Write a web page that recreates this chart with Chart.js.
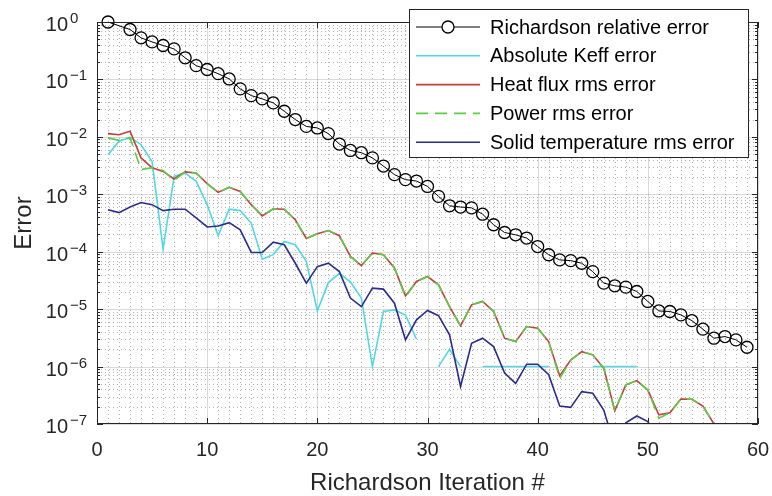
<!DOCTYPE html>
<html>
<head>
<meta charset="utf-8">
<title>Richardson iteration convergence</title>
<script src="https://cdn.jsdelivr.net/npm/chart.js"></script>
<style>
  html, body { margin: 0; padding: 0; background: #fff; }
  #wrap { width: 772px; height: 496px; }
</style>
</head>
<body>
<div id="wrap"><canvas id="errChart" width="772" height="496"></canvas></div>
<script>
// iteration numbers (x axis)
const iterations = [1, 2, 3, 4, 5, 6, 7, 8, 9, 10, 11, 12, 13, 14, 15, 16, 17, 18, 19, 20,
  21, 22, 23, 24, 25, 26, 27, 28, 29, 30, 31, 32, 33, 34, 35, 36, 37, 38, 39, 40,
  41, 42, 43, 44, 45, 46, 47, 48, 49, 50, 51, 52, 53, 54, 55, 56, 57, 58, 59];

const richardsonErr = [1.0, null, 0.74, 0.53, 0.45, 0.39, 0.34, 0.238, 0.174, 0.149,
  0.126, 0.102, 0.0685, 0.0523, 0.0458, 0.039, 0.0279, 0.020, 0.0152, 0.0143,
  0.0114, 0.0075, 0.0058, 0.0053, 0.0043, 0.0031, 0.0022, 0.0018, 0.0017, 0.00137,
  0.00092, 0.00063, 0.0006, 0.00058, 0.00045, 0.000295, 0.000216, 0.000197, 0.000173, 0.000123,
  8.85e-5, 7.2e-5, 7.0e-5, 6.3e-5, 4.5e-5, 2.84e-5, 2.55e-5, 2.42e-5, 2.03e-5, 1.36e-5,
  9.3e-6, 9.1e-6, 7.95e-6, 6.3e-6, 4.48e-6, 3.12e-6, 3.33e-6, 2.92e-6, 2.17e-6];

const keffErr = [0.0049, 0.0084, 0.0098, 0.0073, 0.0037, 0.000111, 0.00205, 0.00235, 0.00168, 0.00066,
  0.00019, 0.00055, 0.00052, 0.000315, 7.4e-5, 8.9e-5, 0.000151, 0.000132, 6.8e-5, 9.3e-6,
  2.9e-5, 4.2e-5, 3.0e-5, 1.56e-5, 1.0e-6, 9.1e-6, 9.7e-6, 7.9e-6, 3.0e-6, null,
  1e-6, 2e-6, 1e-6, null, 1e-6, 1e-6, 1e-6, 1e-6, 1e-6, 1e-6,
  1e-6, null, null, null, 1e-6, 1e-6, 1e-6, 1e-6, 1e-6, null,
  null, null, null, null, null, null, null, null, null];

const heatFluxErr = [0.0114, 0.0109, 0.0125, 0.0043, 0.0029, 0.0025, 0.00185, 0.00245, 0.00235, 0.00153,
  0.00108, 0.00132, 0.00112, 0.00066, 0.00042, 0.00056, 0.00055, 0.00036, 0.00017, 0.000205,
  0.000234, 0.00019, 8.3e-5, 5.75e-5, 9.5e-5, 8.85e-5, 5.2e-5, 1.7e-5, 3.03e-5, 3.7e-5,
  2.65e-5, 1.11e-5, 5.1e-6, 1.19e-5, 1.36e-5, 9.1e-6, 3.12e-6, 2.72e-6, 4.98e-6, 4.66e-6,
  2.72e-6, 6.9e-7, 1.3e-6, 1.82e-6, 1.6e-6, 9.4e-7, 1.7e-7, 4.8e-7, 5.7e-7, 3.9e-7,
  1.44e-7, 1.57e-7, 2.73e-7, 2.7e-7, 2.06e-7, 1.0e-7, 5e-8, null, null];

const powerErr = [0.0096, 0.0087, 0.0096, 0.0027, 0.0029, 0.0026, 0.00175, 0.00245, 0.00235, 0.00153,
  0.00108, 0.00132, 0.00112, 0.00066, 0.00042, 0.00056, 0.00055, 0.00036, 0.00017, 0.000205,
  0.000234, 0.00019, 8.3e-5, 5.75e-5, 9.5e-5, 8.85e-5, 5.2e-5, 1.62e-5, 3.03e-5, 3.7e-5,
  2.65e-5, 1.11e-5, 5.1e-6, 1.19e-5, 1.36e-5, 9.1e-6, 3.12e-6, 2.72e-6, 4.98e-6, 4.66e-6,
  2.72e-6, 6.2e-7, 1.3e-6, 1.82e-6, 1.6e-6, 9.4e-7, 1.7e-7, 4.8e-7, 5.7e-7, 3.9e-7,
  1.26e-7, 1.57e-7, 2.73e-7, 2.7e-7, 2.06e-7, 1.0e-7, 5e-8, null, null];

const solidTempErr = [0.00054, 0.00048, 0.0006, 0.00072, 0.00066, 0.00052, 0.00055, 0.00055, 0.00039, 0.00027,
  0.00028, 0.00032, 0.00024, 9.7e-5, 9.7e-5, 0.000147, 0.000132, 6.3e-5, 2.84e-5, 5.5e-5,
  6.3e-5, 4.5e-5, 1.56e-5, 1.11e-5, 2.32e-5, 2.23e-5, 1.27e-5, 2.92e-6, 6.5e-6, 9.5e-6,
  7.7e-6, 3.56e-6, 4.5e-7, 2.55e-6, 3.12e-6, 2.23e-6, 7.7e-7, 5.1e-7, 1.1e-6, 1.1e-6,
  7.2e-7, 2.06e-7, 1.95e-7, 3.66e-7, 3.43e-7, 1.75e-7, 4e-8, 1.05e-7, 1.38e-7, 1.1e-7,
  5e-8, null, null, null, null, null, null, null, null];

// axis ticks
const xTicks = [0, 10, 20, 30, 40, 50, 60];
const yExponents = [0, -1, -2, -3, -4, -5, -6, -7];

const FONT = 'Liberation Sans, Arial, Helvetica, sans-serif';
const AXIS_COLOR = '#262626';

function pts(ys) {
  return iterations.map((it, i) => ({ x: it, y: ys[i] }));
}

function seg(ctx, x1, y1, x2, y2) {
  ctx.beginPath();
  ctx.moveTo(x1, y1);
  ctx.lineTo(x2, y2);
  ctx.stroke();
}

// grid lines (major solid, minor dotted) under the data
const gridPlugin = {
  id: 'logGrid',
  beforeDatasetsDraw(chart) {
    const { ctx, chartArea: a, scales: { x, y } } = chart;
    ctx.save();
    ctx.lineWidth = 1;
    ctx.strokeStyle = 'rgba(0,0,0,0.3)';
    ctx.setLineDash([1, 3]);
    for (let v = xTicks[0] + 1; v < xTicks[xTicks.length - 1]; v++) {
      if (xTicks.includes(v)) continue;
      const px = Math.round(x.getPixelForValue(v)) + 0.5;
      seg(ctx, px, a.top, px, a.bottom);
    }
    yExponents.forEach(e => {
      if (e === 0) return;
      for (let m = 2; m <= 9; m++) {
        const py = Math.round(y.getPixelForValue(m * Math.pow(10, e))) + 0.5;
        seg(ctx, a.left, py, a.right, py);
      }
    });
    ctx.setLineDash([]);
    ctx.strokeStyle = 'rgba(0,0,0,0.15)';
    xTicks.forEach(v => {
      const px = Math.round(x.getPixelForValue(v)) + 0.5;
      seg(ctx, px, a.top, px, a.bottom);
    });
    yExponents.forEach(e => {
      const py = Math.round(y.getPixelForValue(Math.pow(10, e))) + 0.5;
      seg(ctx, a.left, py, a.right, py);
    });
    ctx.restore();
  },
  afterDatasetsDraw(chart) {
    const { ctx, chartArea: a, scales: { x, y } } = chart;
    ctx.save();
    ctx.strokeStyle = AXIS_COLOR;
    ctx.lineWidth = 1;
    // inward tick marks on all four sides
    xTicks.forEach(v => {
      const px = Math.round(x.getPixelForValue(v)) + 0.5;
      seg(ctx, px, a.bottom, px, a.bottom - 6);
      seg(ctx, px, a.top, px, a.top + 6);
    });
    yExponents.forEach(e => {
      const py = Math.round(y.getPixelForValue(Math.pow(10, e))) + 0.5;
      seg(ctx, a.left, py, a.left + 6, py);
      seg(ctx, a.right, py, a.right - 6, py);
      if (e === 0) return;
      for (let m = 2; m <= 9; m++) {
        const my = Math.round(y.getPixelForValue(m * Math.pow(10, e))) + 0.5;
        seg(ctx, a.left, my, a.left + 3, my);
        seg(ctx, a.right, my, a.right - 3, my);
      }
    });
    ctx.strokeRect(Math.round(a.left) + 0.5, Math.round(a.top) + 0.5,
      Math.round(a.width) - 1, Math.round(a.height) - 1);

    // y tick labels 10^n
    ctx.fillStyle = AXIS_COLOR;
    yExponents.forEach(e => {
      const py = y.getPixelForValue(Math.pow(10, e));
      ctx.font = '20px ' + FONT;
      ctx.textAlign = 'right';
      ctx.textBaseline = 'alphabetic';
      ctx.fillText('10', a.left - 29, py + 9);
      ctx.font = '15px ' + FONT;
      ctx.textAlign = 'left';
      ctx.fillText(String(e).replace('-', '\u2212'), a.left - 27, py + 1);
    });
    ctx.restore();
  },
  afterDraw(chart) {
    // legend box inside the axes, top right
    const { ctx, chartArea: a } = chart;
    const w = 339, h = 148;
    const left = a.right - 10 - w, top = a.top - 13;
    ctx.save();
    ctx.fillStyle = '#fff';
    ctx.fillRect(left, top, w, h);
    ctx.strokeStyle = AXIS_COLOR;
    ctx.lineWidth = 1;
    ctx.strokeRect(Math.round(left) + 0.5, Math.round(top) + 0.5, w, h);
    ctx.font = '20px ' + FONT;
    ctx.textBaseline = 'middle';
    ctx.textAlign = 'left';
    chart.data.datasets.forEach((ds, i) => {
      const cy = top + 18 + i * 28.8;
      ctx.strokeStyle = ds.borderColor;
      ctx.lineWidth = ds.borderWidth;
      ctx.setLineDash(ds.borderDash || []);
      seg(ctx, left + 7, cy, left + 71, cy);
      ctx.setLineDash([]);
      if (ds.pointRadius > 0) {
        ctx.fillStyle = '#fff';
        ctx.lineWidth = ds.pointBorderWidth;
        ctx.beginPath();
        ctx.arc(left + 39, cy, ds.pointRadius, 0, Math.PI * 2);
        ctx.fill();
        ctx.stroke();
      }
      ctx.fillStyle = '#000';
      ctx.fillText(ds.label, left + 81, cy + 1);
    });
    ctx.restore();
  }
};

new Chart(document.getElementById('errChart'), {
  type: 'line',
  data: {
    datasets: [
      {
        label: 'Richardson relative error', data: pts(richardsonErr),
        borderColor: '#000', borderWidth: 1, spanGaps: true, clip: false,
        pointRadius: 6, pointBorderWidth: 1.3, pointBorderColor: '#000',
        pointBackgroundColor: 'rgba(0,0,0,0)', order: 5
      },
      {
        label: 'Absolute Keff error', data: pts(keffErr),
        borderColor: '#50d8e4', borderWidth: 1.6, pointRadius: 0, order: 4
      },
      {
        label: 'Heat flux rms error', data: pts(heatFluxErr),
        borderColor: '#c4403c', borderWidth: 1.6, pointRadius: 0, order: 3
      },
      {
        label: 'Power rms error', data: pts(powerErr),
        borderColor: '#5ccc46', borderWidth: 1.6, borderDash: [12, 7], pointRadius: 0, order: 2
      },
      {
        label: 'Solid temperature rms error', data: pts(solidTempErr),
        borderColor: '#2c2c8c', borderWidth: 1.6, pointRadius: 0, order: 1
      }
    ]
  },
  options: {
    responsive: false,
    animation: false,
    layout: { padding: { top: 22, right: 14, left: 0, bottom: 0 } },
    plugins: { legend: { display: false }, tooltip: { enabled: false } },
    scales: {
      x: {
        type: 'linear', min: 0, max: 60,
        afterFit: s => { s.height = 72; s.paddingLeft = 0; s.paddingRight = 0; },
        grid: { display: false, drawTicks: false },
        border: { display: false },
        ticks: { stepSize: 10, padding: 14, color: AXIS_COLOR, font: { family: FONT, size: 20 } },
        title: {
          display: true, text: 'Richardson Iteration #', color: AXIS_COLOR,
          font: { family: FONT, size: 24, lineHeight: 1 }, padding: { top: 0, bottom: 1 }
        }
      },
      y: {
        type: 'logarithmic', min: 1e-7, max: 1,
        afterFit: s => { s.width = 97; s.paddingTop = 0; s.paddingBottom = 0; },
        grid: { display: false, drawTicks: false },
        border: { display: false },
        ticks: { display: false },
        title: {
          display: true, text: 'Error', color: AXIS_COLOR,
          font: { family: FONT, size: 24, lineHeight: 1 }, padding: { top: 12, bottom: 0 }
        }
      }
    }
  },
  plugins: [gridPlugin]
});
</script>
</body>
</html>
